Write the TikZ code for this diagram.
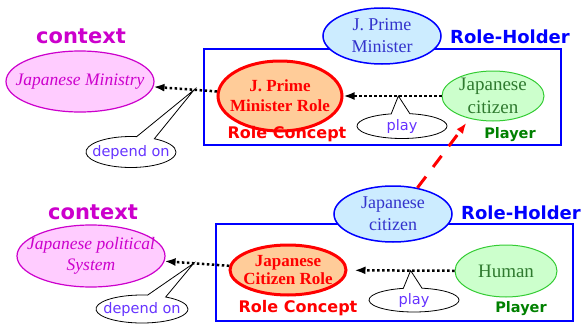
\documentclass[tikz,border=0pt]{standalone}
\usepackage{fontspec}
\setmainfont{Liberation Serif}
\setsansfont{DejaVu Sans}
\usetikzlibrary{shapes.geometric,shapes.callouts,arrows.meta}
\tikzset{>={Latex[length=11pt,width=8pt]}}
\definecolor{ctxmagenta}{HTML}{CC00CC}
\definecolor{ctxpink}{HTML}{FFCCFF}
\definecolor{holderblue}{HTML}{0000FF}
\definecolor{holderfill}{HTML}{CCECFF}
\definecolor{holdertext}{HTML}{3333CC}
\definecolor{rolered}{HTML}{FF0000}
\definecolor{rolefill}{HTML}{FFCC99}
\definecolor{playerline}{HTML}{33CC33}
\definecolor{playerfill}{HTML}{CCFFCC}
\definecolor{playertext}{HTML}{2F7A2F}
\definecolor{playergreen}{HTML}{008000}
\definecolor{saytext}{HTML}{6633FF}
\tikzset{
	blob/.style={ellipse,inner sep=0pt,inner xsep=-30pt,inner ysep=-5pt,align=center},
	ctxblob/.style={blob,draw=ctxmagenta,fill=ctxpink,line width=1.2pt,text=ctxmagenta,font=\itshape\fontsize{17.5}{20.5}\selectfont},
	holderblob/.style={blob,draw=holderblue,fill=holderfill,line width=1.5pt,text=holdertext,font=\fontsize{18}{22}\selectfont},
	roleblob/.style={blob,draw=rolered,fill=rolefill,line width=3pt,text=rolered,font=\bfseries\fontsize{17}{20}\selectfont},
	playerblob/.style={blob,draw=playerline,fill=playerfill,line width=1pt,text=playertext,font=\fontsize{19}{22.5}\selectfont},
	rolebox/.style={draw=holderblue,line width=2pt},
	heading/.style={font=\sffamily\bfseries\fontsize{#1}{#1}\selectfont},
	bubble/.style={ellipse callout,draw=black,fill=white,line width=0.8pt,inner sep=0pt,inner xsep=-30pt,callout pointer arc=24,text=saytext,font=\sffamily\fontsize{14.5}{16}\selectfont},
	dep/.style={->,line width=2.5pt,dash pattern=on 2.5pt off 2.5pt}
}

\begin{document}
\begin{tikzpicture}[x=1pt,y=-1pt]
	\useasboundingbox (0,0) rectangle (582,324);

	% upper part
	\node[heading=21,text=ctxmagenta] (ctx1) at (81,36) {context};
	\node[ctxblob,minimum width=148pt,minimum height=61pt] (jmin) at (80,81.5) {Japanese Ministry};
	\draw[rolebox] (204,49) rectangle (561,145);
	\node[heading=18,text=holderblue] (holder1) at (510,37) {Role-Holder};
	\node[holderblob,minimum width=118pt,minimum height=56pt] (jpm) at (382,36) {J. Prime\\Minister};
	\node[roleblob,minimum width=124pt,minimum height=70pt] (jpmr) at (280,96) {J. Prime\\Minister Role};
	\node[heading=16,text=rolered] (concept1) at (287,134) {Role Concept};
	\node[playerblob,minimum width=102pt,minimum height=50pt] (tcit) at (493,96) {Japanese\\citizen};
	\node[heading=14.5,text=playergreen] (player1) at (510,135) {Player};

	\draw[dep] (jpmr) -- coordinate[pos=0.36] (dep1) (jmin);
	\draw[dep] (tcit) -- coordinate[pos=0.44] (play1) (jpmr);
	\node[bubble,minimum width=90pt,minimum height=31pt,callout absolute pointer={(dep1)}] (say1) at (131,152) {depend on};
	\node[bubble,minimum width=90pt,minimum height=25pt,callout absolute pointer={(play1)}] (say2) at (402,126) {play};

	% lower part
	\node[heading=21,text=ctxmagenta] (ctx2) at (93,212) {context};
	\node[ctxblob,minimum width=148pt,minimum height=62pt] (jps) at (91,256) {Japanese political\\System};
	\draw[rolebox] (216,224) rectangle (573,321);
	\node[heading=18,text=holderblue] (holder2) at (521,213) {Role-Holder};
	\node[holderblob,minimum width=118pt,minimum height=56pt] (bcit) at (393,214) {Japanese\\citizen};
	\node[roleblob,minimum width=116pt,minimum height=50pt,font=\bfseries\fontsize{17}{17.5}\selectfont] (jcr) at (288,270) {Japanese\\Citizen Role};
	\node[heading=16,text=rolered] (concept2) at (298,308) {Role Concept};
	\node[playerblob,minimum width=102pt,minimum height=52pt] (hum) at (506,271) {Human};
	\node[heading=14.5,text=playergreen] (player2) at (521,309) {Player};

	\draw[dep] (jcr) -- coordinate[pos=0.55] (dep2) (jps);
	\draw[dep,shorten >=7pt] (hum) -- coordinate[pos=0.41] (play2) (jcr);
	\node[bubble,minimum width=92pt,minimum height=28pt,callout absolute pointer={(dep2)}] (say3) at (142,309) {depend on};
	\node[bubble,minimum width=90pt,minimum height=24pt,callout absolute pointer={(play2)}] (say4) at (414,300) {play};

	% role-holder becomes player
	\draw[->,rolered,line width=3pt,dash pattern=on 14pt off 12pt,shorten >=5pt] (bcit.47) -- (tcit.224);
\end{tikzpicture}
\end{document}
